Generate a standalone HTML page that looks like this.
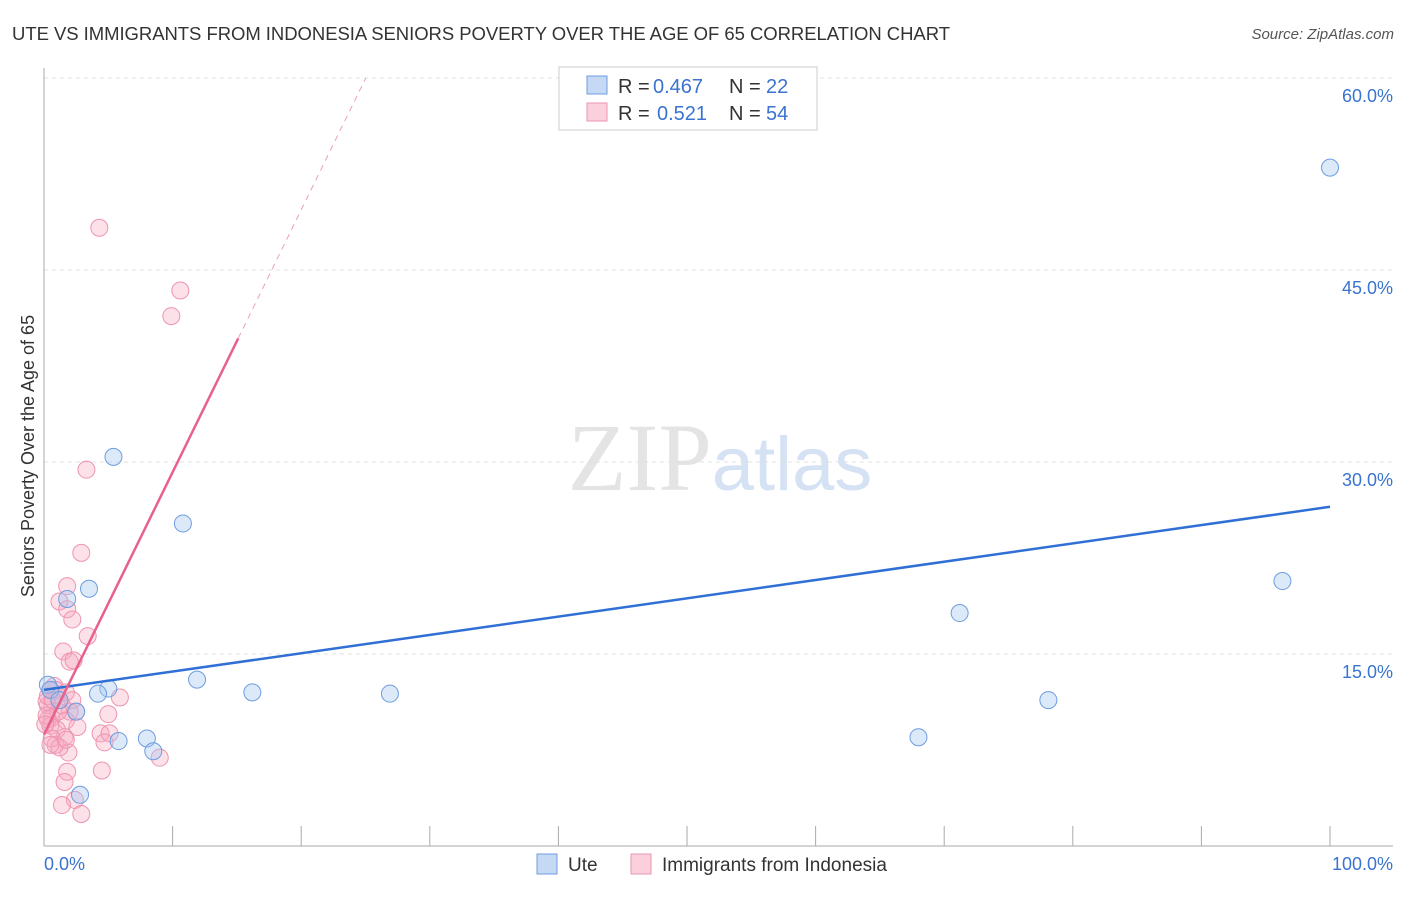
<!DOCTYPE html>
<html><head><meta charset="utf-8"><style>
body{margin:0;background:#fff;font-family:"Liberation Sans",sans-serif}
svg text{font-family:"Liberation Sans",sans-serif}
</style></head><body>
<svg id="c" width="1406" height="892">
<text x="12" y="40" font-size="18.5" fill="#333" textLength="938">UTE VS IMMIGRANTS FROM INDONESIA SENIORS POVERTY OVER THE AGE OF 65 CORRELATION CHART</text>
<text x="1394" y="39" font-size="15" fill="#555" text-anchor="end" font-style="italic">Source: ZipAtlas.com</text>
<text x="720" y="490" font-size="96" fill="#e4e4e4" text-anchor="middle" font-family="Liberation Serif"><tspan font-family="Liberation Serif">ZIP</tspan><tspan fill="#d5e2f3" font-family="Liberation Sans" font-size="76">atlas</tspan></text>
<text x="34" y="456" font-size="18" fill="#333" text-anchor="middle" transform="rotate(-90 34 456)">Seniors Poverty Over the Age of 65</text>
<g id="grid"></g><g id="pts"></g><g id="lines"></g>
<g>
<rect x="559" y="67" width="258" height="63" fill="#fff" stroke="#ccc"/>
<rect x="587" y="76" width="20" height="18" fill="#c5d9f5" stroke="#6d9de0"/>
<rect x="587" y="103" width="20" height="18" fill="#fbcfdc" stroke="#ee94b1"/>
<text x="618" y="93" font-size="20" fill="#333">R =</text>
<text x="653" y="93" font-size="20" fill="#3a73d0">0.467</text>
<text x="729" y="93" font-size="20" fill="#333">N =</text>
<text x="766" y="93" font-size="20" fill="#3a73d0">22</text>
<text x="618" y="120" font-size="20" fill="#333">R =</text>
<text x="657" y="120" font-size="20" fill="#3a73d0">0.521</text>
<text x="729" y="120" font-size="20" fill="#333">N =</text>
<text x="766" y="120" font-size="20" fill="#3a73d0">54</text>
</g>
<g>
<rect x="537" y="854" width="20" height="20" fill="#c5d9f5" stroke="#6d9de0"/>
<text x="568" y="871" font-size="19" fill="#333">Ute</text>
<rect x="631" y="854" width="20" height="20" fill="#fbcfdc" stroke="#ee94b1"/>
<text x="662" y="871" font-size="19" fill="#333">Immigrants from Indonesia</text>
</g>
</svg>
<script>
const yTicks=[15,30,45,60];
const xTickLabels=["0.0%","100.0%"];
const uteX=[100,5.4,10.8,3.5,1.8,11.9,16.2,26.9,5.0,4.2,2.5,5.8,8.0,8.5,2.8,68.0,71.2,78.1,96.3,0.3,0.5,1.2];
const uteY=[53.0,30.4,25.2,20.1,19.3,13.0,12.0,11.9,12.3,11.9,10.5,8.2,8.4,7.4,4.0,8.5,18.2,11.4,20.7,12.6,12.2,11.4];
const indX=[4.3,10.6,9.9,3.3,2.9,1.8,1.2,1.8,2.2,3.4,1.5,2.0,2.3,5.9,2.5,5.0,0.8,0.5,1.2,0.3,1.4,2.0,0.6,1.7,1.0,2.6,4.4,5.1,4.7,1.6,0.9,1.9,4.5,9.0,1.8,1.6,2.4,1.4,2.9,0.3,0.5,0.2,0.9,1.7,1.1,0.2,0.6,1.2,1.7,0.3,0.7,0.1,0.5,2.2];
const indY=[48.3,43.4,41.4,29.4,22.9,20.3,19.1,18.5,17.7,16.4,15.2,14.4,14.5,11.6,10.5,10.3,12.5,12.2,11.4,11.0,11.0,10.5,10.0,9.8,9.1,9.3,8.8,8.8,8.1,8.5,7.9,7.3,5.9,6.9,5.8,5.0,3.6,3.2,2.5,9.9,9.4,11.3,12.2,12.0,10.5,10.2,8.4,7.7,8.3,11.7,11.4,9.5,7.9,11.4];
const uteTrend=[12.2,26.5];
const indTrend=[8.7,2.05];
const X=v=>44+v*12.86, Y=v=>846-v*12.8;
const NS="http://www.w3.org/2000/svg";
function mk(t,a,p){const e=document.createElementNS(NS,t);for(const k in a)e.setAttribute(k,a[k]);p.appendChild(e);return e;}
const g=document.getElementById('grid');
yTicks.forEach(t=>{
 const l=mk('line',{x1:44,x2:1393,y1:Y(t),y2:Y(t),stroke:'#e2e2e2','stroke-dasharray':'4,4'},g);
 
 
 const tx=mk('text',{x:1393,y:Y(t)+24,'font-size':18,fill:'#3a73d0','text-anchor':'end'},g);tx.textContent=t.toFixed(1)+'%';
 
 
});
const ax=mk('line',{x1:44,x2:44,y1:68,y2:846,stroke:'#aaa'},g);


const bx=mk('line',{x1:44,x2:1393,y1:846,y2:846,stroke:'#aaa'},g);


for(let i=1;i<=10;i++){const t=mk('line',{x1:X(i*10),x2:X(i*10),y1:826,y2:846,stroke:'#aaa'},g);
 
 }
xTickLabels.forEach((s,i)=>{const t=mk('text',{x:i?1393:44,y:870,'font-size':18,fill:'#3a73d0','text-anchor':i?'end':'start'},g);t.textContent=s;
 
 });
const p=document.getElementById('pts');
indX.forEach((x,i)=>{const c=mk('circle',{cx:X(x),cy:Y(indY[i]),r:8.5,fill:'rgba(246,168,193,0.35)',stroke:'#ee94b1','stroke-width':1},p);
 
 });
uteX.forEach((x,i)=>{const c=mk('circle',{cx:X(x),cy:Y(uteY[i]),r:8.5,fill:'rgba(168,199,240,0.4)',stroke:'#6d9de0','stroke-width':1},p);
 
 });
const L=document.getElementById('lines');
const bl=mk('line',{x1:X(0),y1:Y(uteTrend[0]),x2:X(100),y2:Y(uteTrend[1]),stroke:'#2f6fd6','stroke-width':2.5},L);


const xe=15.1,xd=(60-indTrend[0])/indTrend[1];
const pl=mk('line',{x1:X(0),y1:Y(indTrend[0]),x2:X(xe),y2:Y(indTrend[0]+indTrend[1]*xe),stroke:'#e8608c','stroke-width':2.5},L);


const pd=mk('line',{x1:X(xe),y1:Y(indTrend[0]+indTrend[1]*xe),x2:X(xd),y2:Y(60),stroke:'#eea0b8','stroke-width':1,'stroke-dasharray':'6,5'},L);


</script>
</body></html>
